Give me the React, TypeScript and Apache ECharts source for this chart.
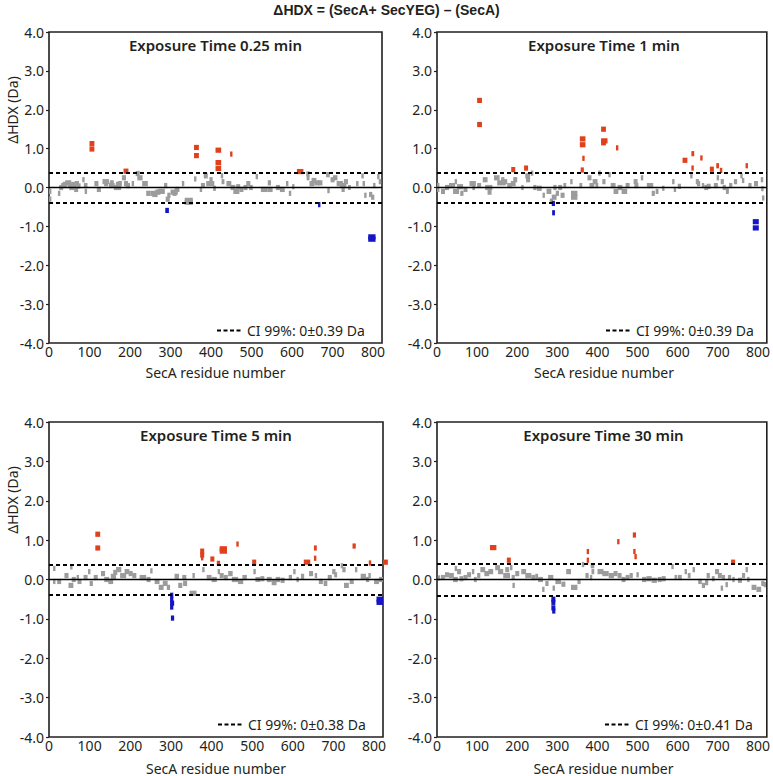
import React, { useEffect, useRef } from "react";
import * as echarts from "echarts";

// ---------- data ----------
const MAIN_TITLE = "\u0394HDX = (SecA+ SecYEG) \u2013 (SecA)";
const PANEL_TITLES = ["Exposure Time 0.25 min", "Exposure Time 1 min", "Exposure Time 5 min", "Exposure Time 30 min"];
const CI_99 = [0.39, 0.39, 0.38, 0.41];
const X_LABEL = "SecA residue number";
const Y_LABEL = "\u0394HDX (Da)";
const X_MIN = 0;
const X_MAX = 822;
const X_STEP = 100;
const Y_MIN = -4;
const Y_MAX = 4;
const Y_STEP = 1;

// peptides: [start residue, end residue, ΔHDX (Da)]
const PEPTIDES_025: number[][] = [
  [100,112,1.13],[100,112,0.99],[184,196,0.42],[358,370,1.03],[358,370,0.82],[411,425,0.96],[411,425,0.64],[411,425,0.49],[447,450,0.86],[612,628,0.41],
  [287,296,-0.59],[664,670,-0.44],[788,806,-1.27],[788,806,-1.33],
  [0,4,-0.1],[0,4,-0.3],[22,28,-0.15],[30,42,0.05],[40,55,0.12],[50,62,0.0],[55,68,0.08],[62,72,-0.05],[70,78,0.04],[82,85,0.2],[86,95,0.05],[88,94,-0.1],
  [112,122,0.1],[118,128,-0.05],[132,148,0.15],[148,162,0.05],[160,178,0.0],[165,175,0.08],[180,190,0.25],[185,195,0.1],[204,208,0.1],[214,224,0.36],
  [218,231,0.25],[230,244,0.1],[250,262,-0.15],[262,275,-0.12],[276,286,-0.1],[284,292,0.05],[288,298,-0.3],[292,300,-0.2],[300,318,-0.12],[328,332,0.1],
  [335,355,-0.33],[335,355,-0.38],[358,361,0.22],[375,385,0.05],[382,392,0.3],[388,400,0.1],[396,404,0.2],[400,408,0.1],[424,430,0.3],[426,433,0.15],
  [438,450,0.1],[448,460,0.0],[455,470,-0.1],[487,497,0.1],[494,503,0.0],[510,512,0.28],[523,540,-0.05],[540,552,-0.05],[540,548,0.12],[585,587,0.1],
  [592,596,-0.15],[635,643,0.35],[636,643,0.25],[643,655,0.1],[655,668,0.12],[684,693,0.33],[687,691,-0.08],[701,712,0.25],[710,726,0.1],[718,734,0.05],
  [722,730,-0.05],[758,760,0.1],[771,776,0.3],[774,780,0.1],[778,784,-0.2],[810,814,0.28],[800,806,0.05],[814,820,0.15],
  [25,35,0.0],[34,44,0.08],[46,58,0.05],[64,74,0.1],[136,146,0.1],[150,160,0.12],[170,180,0.1],[190,200,0.05],[240,250,-0.15],[255,268,-0.18],
  [268,280,-0.1],[305,315,-0.15],[310,322,-0.05],[372,378,-0.05],[405,412,-0.02],[462,472,0.02],[470,480,-0.05],[480,490,0.0],[560,570,0.0],[570,582,-0.05],
  [600,606,0.02],[648,660,0.18],[665,675,0.12],[695,705,0.2],[728,738,0.15],[738,745,0.0],[790,798,-0.18],[795,803,-0.25]
];

const PEPTIDES_1: number[][] = [
  [100,112,2.24],[100,112,1.62],[185,195,0.46],[217,227,0.5],[356,370,1.25],[356,370,1.1],[362,366,0.75],[358,366,0.45],[409,421,1.5],[409,425,1.2],
  [409,421,1.15],[446,449,1.02],[612,624,0.7],[634,641,0.87],[634,640,0.5],[656,661,0.76],[680,690,0.47],[696,703,0.56],[705,711,0.44],[769,775,0.56],
  [286,294,-0.41],[287,294,-0.65],[787,802,-0.88],[787,802,-1.04],
  [0,6,-0.05],[0,4,0.05],[30,45,0.05],[40,55,-0.1],[50,65,0.02],[44,50,0.15],[58,66,-0.15],[81,97,0.1],[88,95,0.0],[114,126,0.2],[120,138,0.0],
  [126,136,-0.12],[142,156,0.25],[150,171,0.12],[160,168,0.2],[175,186,0.05],[184,196,0.1],[210,214,0.0],[220,232,0.3],[222,232,0.2],[234,238,0.37],
  [249,261,-0.02],[263,267,-0.2],[273,285,-0.1],[281,289,-0.35],[286,298,-0.25],[290,298,0.0],[302,312,0.0],[308,318,-0.2],[332,336,0.15],[334,350,-0.15],
  [334,350,-0.25],[375,385,0.25],[380,392,0.05],[388,400,0.15],[402,406,0.37],[427,431,0.33],[433,445,0.05],[440,452,-0.1],[450,462,0.0],[460,474,-0.1],
  [490,500,0.15],[492,502,0.05],[508,512,0.25],[523,539,0.05],[535,543,-0.15],[561,565,-0.02],[586,590,0.15],[590,594,-0.05],[631,635,0.3],[645,653,0.15],
  [648,656,0.1],[666,676,0.0],[672,682,0.03],[697,701,0.25],[707,715,0.15],[712,720,0.0],[720,727,-0.1],[721,725,-0.08],[756,760,0.3],[760,766,0.18],
  [776,784,0.05],[807,811,0.2],[808,814,-0.03],[810,816,-0.27],
  [10,20,-0.1],[20,30,0.0],[66,76,-0.05],[100,110,0.05],[160,175,0.15],[190,200,0.2],[240,248,0.0],[296,304,-0.15],[315,322,0.05],[355,362,0.05],
  [395,402,0.05],[412,420,0.15],[470,480,0.05],[545,552,-0.1],[600,608,0.03],[660,666,0.05],[690,700,0.05],[728,736,0.05],[740,748,0.15],[790,800,0.1]
];

const PEPTIDES_5: number[][] = [
  [114,126,1.15],[114,126,0.8],[372,382,0.72],[372,382,0.62],[374,380,0.55],[397,407,0.52],[413,421,0.41],[420,438,0.78],[420,438,0.72],[461,463,0.9],
  [500,510,0.44],[627,643,0.44],[652,659,0.8],[652,658,0.54],[747,755,0.85],[787,793,0.42],[822,834,0.44],
  [298,306,-0.4],[298,306,-0.5],[298,308,-0.6],[298,306,-0.7],[300,308,-0.98],[806,822,-0.5],[806,822,-0.58],
  [10,14,0.28],[10,14,-0.05],[38,48,0.1],[48,60,-0.15],[52,56,0.32],[56,66,0.0],[68,72,0.05],[96,102,0.2],[100,108,-0.1],[128,138,0.15],[136,148,0.0],
  [146,158,-0.05],[152,165,0.08],[165,178,0.25],[175,190,0.1],[186,198,0.2],[196,206,0.15],[223,239,0.05],[249,253,0.22],[260,272,-0.05],[270,282,-0.2],
  [280,292,-0.1],[309,320,0.08],[318,328,-0.15],[328,338,0.05],[346,363,-0.35],[353,357,0.1],[377,381,0.25],[388,400,0.05],[400,413,0.0],[415,419,0.2],
  [441,452,0.15],[450,465,0.0],[465,478,-0.05],[476,487,0.05],[503,508,0.2],[508,520,0.0],[536,548,0.0],[548,560,-0.08],[558,569,0.0],[601,603,0.2],
  [609,613,0.0],[654,658,0.1],[664,674,-0.05],[676,685,-0.1],[697,705,0.2],[702,709,0.12],[718,724,0.35],[722,730,0.25],[726,738,-0.15],[753,757,0.25],
  [767,780,0.08],[786,790,0.1],[800,812,-0.05],[812,822,0.0],
  [20,30,-0.05],[70,80,-0.05],[85,95,0.05],[110,120,0.05],[158,168,0.18],[205,215,0.1],[240,250,0.0],[290,298,-0.2],[330,340,-0.1],[420,430,0.1],
  [430,440,0.05],[520,530,0.02],[570,580,-0.02],[590,598,0.05],[620,628,0.08],[640,650,0.15],[686,696,0.05],[740,750,-0.05],[780,788,0.0]
];

const PEPTIDES_30: number[][] = [
  [132,148,0.81],[174,184,0.49],[373,377,0.71],[373,377,0.49],[449,451,0.96],[488,496,1.13],[489,492,0.71],[492,498,0.58],[733,743,0.44],
  [285,295,-0.5],[285,295,-0.58],[285,295,-0.72],[287,295,-0.8],
  [2,8,0.04],[30,42,0.1],[40,52,0.0],[44,48,0.28],[50,60,0.2],[56,66,0.02],[87,93,0.2],[92,99,0.0],[108,120,0.25],[118,130,0.15],[128,140,0.2],
  [145,157,0.3],[152,165,0.2],[165,182,0.1],[170,180,0.25],[182,188,0.3],[186,194,0.05],[188,192,-0.15],[210,222,0.2],[220,235,0.1],[252,264,0.0],
  [262,266,-0.25],[277,290,0.05],[288,292,-0.22],[295,309,-0.05],[322,334,0.2],[334,350,-0.2],[361,365,0.38],[383,392,0.35],[385,392,0.2],[381,385,0.05],
  [400,415,0.2],[412,428,0.15],[428,441,0.1],[450,460,0.1],[460,470,0.0],[497,501,0.12],[511,522,0.0],[522,535,0.02],[535,548,-0.02],[584,588,0.33],
  [592,596,0.05],[617,621,0.2],[637,641,0.25],[651,660,-0.05],[660,668,-0.15],[668,676,-0.08],[672,680,0.1],[693,703,0.2],[700,710,0.1],[710,718,0.05],
  [707,711,-0.22],[719,723,-0.13],[736,740,0.0],[769,773,0.25],[773,777,0.0],[784,796,-0.2],[796,808,-0.25],[814,818,-0.13],
  [10,20,0.05],[20,30,0.12],[66,76,0.05],[75,85,0.12],[100,108,0.1],[195,205,0.15],[235,245,0.05],[245,252,0.08],[270,278,-0.1],[310,320,-0.12],
  [350,358,-0.05],[370,378,0.1],[440,450,0.15],[470,480,0.05],[480,488,0.1],[550,560,0.0],[560,570,0.02],[600,610,0.05],[625,632,0.1],[685,692,0.02],
  [725,733,0.05],[750,760,-0.02],[760,768,0.1],[808,816,-0.1]
];

const PANEL_DATA = [PEPTIDES_025, PEPTIDES_1, PEPTIDES_5, PEPTIDES_30];

// ---------- styling ----------
const FONT = '"Noto Sans", sans-serif';
const INK = "#231f20";
const GRAY = "#9c9c9c";
const RED = "#e0401c";
const BLUE = "#1515c4";
const GRIDS = [
  { left: 49, top: 32, width: 333, height: 311 },
  { left: 437, top: 32, width: 334, height: 311 },
  { left: 49, top: 422, width: 334, height: 315 },
  { left: 437, top: 422, width: 333, height: 315 },
];

function buildOption() {
  const grid: any[] = [];
  const xAxis: any[] = [];
  const yAxis: any[] = [];
  const series: any[] = [];
  const graphic: any[] = [];

  graphic.push({
    type: "text",
    left: "center",
    top: 3,
    style: { text: MAIN_TITLE, font: 'bold 14px "Liberation Sans", Arial, sans-serif', fill: INK },
  });

  GRIDS.forEach((g, i) => {
    const ci = CI_99[i];
    grid.push({ ...g, show: true, borderColor: INK, borderWidth: 1.6, backgroundColor: "transparent" });
    xAxis.push({
      type: "value",
      gridIndex: i,
      min: X_MIN,
      max: X_MAX,
      interval: X_STEP,
      axisLine: { show: false },
      axisTick: { show: false },
      splitLine: { show: false },
      axisLabel: {
        margin: 1,
        color: INK,
        fontFamily: FONT,
        fontSize: 14,
        lineHeight: 15,
        formatter: (v: number) => (v % X_STEP === 0 ? String(v) : ""),
      },
    });
    yAxis.push({
      type: "value",
      gridIndex: i,
      min: Y_MIN,
      max: Y_MAX,
      interval: Y_STEP,
      axisLine: { show: false },
      axisTick: { show: true, length: 3, lineStyle: { color: INK, width: 1.2 } },
      splitLine: { show: false },
      axisLabel: {
        margin: 5,
        color: INK,
        fontFamily: FONT,
        fontSize: 14,
        formatter: (v: number) => v.toFixed(1),
      },
    });
    series.push({
      type: "custom",
      xAxisIndex: i,
      yAxisIndex: i,
      clip: false,
      data: PANEL_DATA[i],
      encode: { x: [0, 1], y: 2 },
      renderItem: (params: any, api: any) => {
        const v = api.value(2);
        const s = api.coord([api.value(0), v]);
        const e = api.coord([api.value(1), v]);
        const color = v > ci ? RED : v < -ci ? BLUE : GRAY;
        const w = Math.max(e[0] - s[0], 2.4);
        return {
          type: "rect",
          z2: color === GRAY ? 1 : 5,
          shape: { x: s[0], y: s[1] - 2.6, width: w, height: 5.2 },
          style: { fill: color },
        };
      },
      markLine: {
        silent: true,
        symbol: ["none", "none"],
        label: { show: false },
        lineStyle: { color: "#000", type: [4, 3], width: 1.8 },
        data: [
          { yAxis: 0, lineStyle: { type: "solid", width: 1.3, color: "#000" } },
          { yAxis: ci },
          { yAxis: -ci },
        ],
      },
    });

    const right = g.left + g.width;
    const bottom = g.top + g.height;
    const cx = g.left + g.width / 2;
    // panel title
    graphic.push({
      type: "text",
      x: cx,
      y: g.top + 13,
      style: { text: PANEL_TITLES[i], font: `600 15px ${FONT}`, fill: INK, textAlign: "center", textVerticalAlign: "middle" },
    });
    // legend
    graphic.push({
      type: "line",
      shape: { x1: right - 165, y1: bottom - 12.5, x2: right - 141, y2: bottom - 12.5 },
      style: { stroke: "#000", lineWidth: 2, lineDash: [4, 2.5] },
    });
    graphic.push({
      type: "text",
      x: right - 135,
      y: bottom - 13,
      style: { text: `CI 99%: 0\u00b1${ci.toFixed(2)} Da`, font: `14px ${FONT}`, fill: INK, textAlign: "left", textVerticalAlign: "middle" },
    });
    // x-axis title
    graphic.push({
      type: "text",
      x: cx,
      y: bottom + (i < 2 ? 29 : 31),
      style: { text: X_LABEL, font: `14px ${FONT}`, fill: INK, textAlign: "center", textVerticalAlign: "middle" },
    });
    // y-axis title (left column only)
    if (i % 2 === 0) {
      graphic.push({
        type: "text",
        x: 12,
        y: g.top + 78,
        rotation: Math.PI / 2,
        style: { text: Y_LABEL, font: `14px ${FONT}`, fill: INK, textAlign: "center", textVerticalAlign: "middle" },
      });
    }
  });

  return { animation: false, backgroundColor: "#fff", grid, xAxis, yAxis, series, graphic };
}

export default function App() {
  const ref = useRef<HTMLDivElement>(null);
  useEffect(() => {
    if (!ref.current) return;
    const chart = echarts.init(ref.current, undefined, { renderer: "svg" });
    chart.setOption(buildOption() as any);
    return () => chart.dispose();
  }, []);
  return <div ref={ref} style={{ position: "absolute", left: 0, top: 0, width: 773, height: 776 }} />;
}
